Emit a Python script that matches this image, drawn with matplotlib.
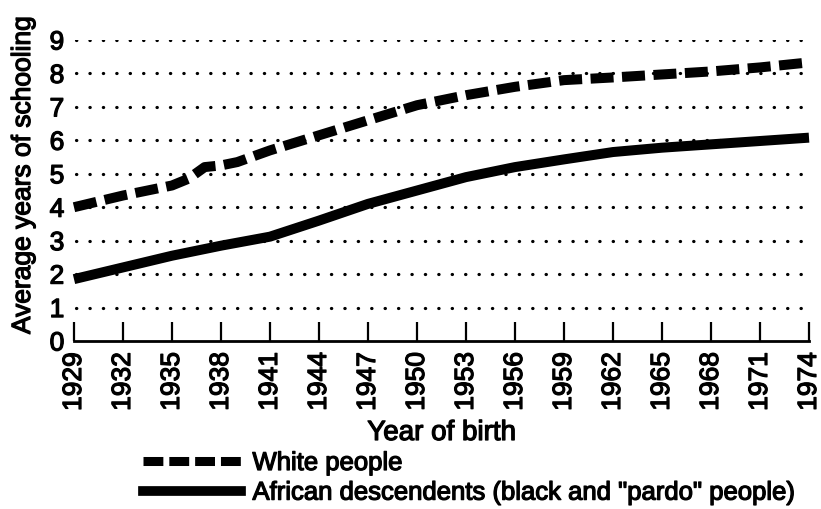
import matplotlib
matplotlib.use("Agg")
import matplotlib.pyplot as plt
import matplotlib.patheffects as pe
from matplotlib.lines import Line2D

plt.rcParams['font.family'] = ['Liberation Sans', 'DejaVu Sans']

years = [1929, 1932, 1935, 1936, 1937, 1938, 1939, 1941, 1944, 1947, 1950, 1953, 1956, 1959, 1962, 1965, 1968, 1971, 1974]
white = [4.0, 4.35, 4.65, 4.85, 5.2, 5.25, 5.35, 5.7, 6.15, 6.6, 7.05, 7.35, 7.6, 7.8, 7.88, 7.97, 8.06, 8.18, 8.33]
black_years = [1929, 1932, 1935, 1938, 1941, 1944, 1947, 1950, 1953, 1956, 1959, 1962, 1965, 1968, 1971, 1974]
african = [1.85, 2.2, 2.55, 2.85, 3.12, 3.6, 4.1, 4.5, 4.9, 5.2, 5.43, 5.65, 5.78, 5.88, 5.98, 6.08]
xticks = list(range(1929, 1975, 3))
yticks = list(range(0, 10))

W, H = 821, 509
fig = plt.figure(figsize=(W/100, H/100), dpi=100)
x0, x1 = 74, 809
y0, y9 = 341, 40
ax = fig.add_axes([x0/W, 1 - y0/H, (x1-x0)/W, (y0-y9)/H])
ax.set_xlim(1929, 1974)
ax.set_ylim(0, 9)

for v in yticks[1:]:
    ax.plot([1929.1, 1973.6], [v, v], color='black', lw=2.3,
            linestyle=(0, (0.1, 4.1)), dash_capstyle='round', zorder=1)

ax.plot(years, white, color='black', lw=7.2, linestyle=(0, (2.3, 0.85)),
        dash_capstyle='butt', solid_joinstyle='miter', zorder=3, clip_on=False)
ax.plot(black_years, african, color='black', lw=7.2, solid_capstyle='butt', zorder=3, clip_on=False)

FS = 19
for s in ['top', 'right', 'left']:
    ax.spines[s].set_visible(False)
ax.spines['bottom'].set_linewidth(2)
ax.set_xticks(xticks)
ax.set_xticklabels([str(x) for x in xticks], rotation=90, fontsize=FS)
ax.set_yticks(yticks)
ax.set_yticklabels([str(y) for y in yticks], fontsize=FS)
ax.tick_params(axis='x', direction='in', length=14, width=1.6, pad=8)
ax.tick_params(axis='y', length=0, pad=7)
ax.set_ylabel('Average years of schooling', fontsize=FS)
ax.yaxis.set_label_coords((35 - x0)/(x1 - x0), (y0 - 175)/(y0 - y9))
ax.set_xlabel('Year of birth', fontsize=20)
ax.xaxis.set_label_coords(0.5, (y0 - 420)/(y0 - y9))

handles = [Line2D([], [], color='black', lw=6.5, linestyle=(0, (2.2, 0.66)), dash_capstyle='butt'),
           Line2D([], [], color='black', lw=7)]
leg = fig.legend(handles, ['White people', 'African descendents (black and "pardo" people)'],
                 loc='upper left', bbox_to_anchor=(143/W, 1 - 451/H), frameon=False,
                 prop={'size': 18.5}, handlelength=3.8, handletextpad=0.46,
                 labelspacing=0.22, borderpad=0, borderaxespad=0)

bold = [pe.withStroke(linewidth=0.9, foreground='black')]
texts = (ax.get_xticklabels() + ax.get_yticklabels() +
         [ax.xaxis.label, ax.yaxis.label] + leg.get_texts())
for t in texts:
    t.set_path_effects(bold)

fig.savefig('out.png', dpi=100)
